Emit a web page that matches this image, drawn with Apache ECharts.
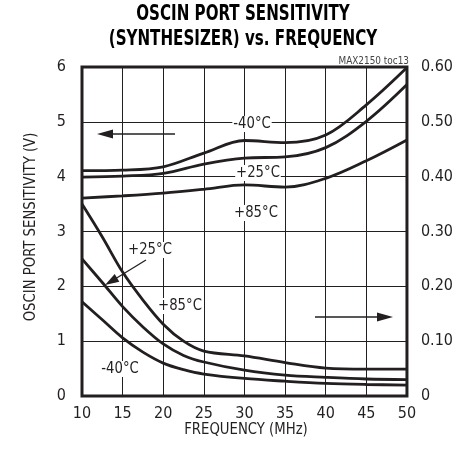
<!DOCTYPE html>
<html><head><meta charset="utf-8">
<script src="https://cdn.jsdelivr.net/npm/echarts@6/dist/echarts.min.js"></script>
<style>html,body{margin:0;padding:0;background:#fff}#c{width:456px;height:458px}</style>
</head><body><div id="c"></div>
<script>
// Frequency (MHz) sample points
const freqUpper = [10, 15, 20, 25, 30, 35, 40, 45, 50];
// Left axis (V): upper curve family
const upperM40 = [4.11, 4.12, 4.18, 4.43, 4.66, 4.62, 4.76, 5.31, 5.99];
const upperP25 = [3.99, 4.01, 4.06, 4.23, 4.34, 4.36, 4.53, 5.01, 5.68];
const upperP85 = [3.61, 3.65, 3.70, 3.77, 3.85, 3.81, 3.97, 4.29, 4.67];
// Right axis: lower curve family
const freqLower = [10, 12.5, 15, 17.5, 20, 22.5, 25, 30, 35, 40, 45, 50];
const lowerP85 = [0.350, 0.290, 0.226, 0.175, 0.131, 0.100, 0.082, 0.073, 0.061, 0.051, 0.049, 0.049];
const lowerP25 = [0.250, 0.207, 0.163, 0.126, 0.095, 0.074, 0.062, 0.047, 0.038, 0.034, 0.031, 0.030];
const lowerM40 = [0.172, 0.139, 0.106, 0.080, 0.060, 0.048, 0.040, 0.032, 0.027, 0.023, 0.021, 0.020];
const xTicks = [10, 15, 20, 25, 30, 35, 40, 45, 50];
const leftTicks = [0, 1, 2, 3, 4, 5, 6];
const rightTicks = ['0', '0.10', '0.20', '0.30', '0.40', '0.50', '0.60'];

const FONT = '"DejaVu Sans Condensed","Liberation Sans",sans-serif';
const INK = '#231f20';
const pairs = (xs, ys) => xs.map((x, i) => [x, ys[i]]);
const mk = (name, xs, ys, axis) => ({
  type: 'line', name, yAxisIndex: axis, data: pairs(xs, ys), smooth: 0.35,
  showSymbol: false, symbol: 'none', lineStyle: { color: INK, width: 2.8 }, silent: true
});
const lbl = (text, x, y) => ({
  type: 'text', x, y, silent: true, z: 100, scaleX: 0.92,
  style: { text, font: '16px ' + FONT, fill: INK, align: 'center', verticalAlign: 'middle',
           backgroundColor: '#fff', padding: [0, 1] }
});

const chart = echarts.init(document.getElementById('c'), null, { renderer: 'canvas' });
chart.setOption({
  animation: false,
  backgroundColor: '#fff',
  grid: { left: 82, right: 46, top: 67, bottom: 62, show: true, borderColor: INK, borderWidth: 3, backgroundColor: 'transparent' },
  xAxis: {
    type: 'value', min: 10, max: 50, interval: 5,
    axisLine: { show: false }, axisTick: { show: false },
    splitLine: { show: true, lineStyle: { color: INK, width: 1 } },
    axisLabel: { fontFamily: FONT, fontSize: 16, color: INK, margin: 10,
      formatter: v => xTicks.includes(v) ? String(v) : '' }
  },
  yAxis: [
    { type: 'value', min: 0, max: 6, interval: 1,
      axisLine: { show: false }, axisTick: { show: false },
      splitLine: { show: true, lineStyle: { color: INK, width: 1 } },
      axisLabel: { fontFamily: FONT, fontSize: 16, color: INK, margin: 16,
        formatter: v => String(leftTicks[Math.round(v)]) } },
    { type: 'value', min: 0, max: 0.6, interval: 0.1, position: 'right',
      axisLine: { show: false }, axisTick: { show: false }, splitLine: { show: false },
      axisLabel: { fontFamily: FONT, fontSize: 16, color: INK, margin: 14,
        formatter: v => rightTicks[Math.round(v * 10)] } }
  ],
  series: [
    mk('-40 upper', freqUpper, upperM40, 0),
    mk('+25 upper', freqUpper, upperP25, 0),
    mk('+85 upper', freqUpper, upperP85, 0),
    mk('+85 lower', freqLower, lowerP85, 1),
    mk('+25 lower', freqLower, lowerP25, 1),
    mk('-40 lower', freqLower, lowerM40, 1)
  ],
  graphic: [
    { type: 'text', x: 243, y: 15, scaleX: 0.8, style: { text: 'OSCIN PORT SENSITIVITY', font: 'bold 21px ' + FONT, fill: '#000', align: 'center', verticalAlign: 'middle' } },
    { type: 'text', x: 243, y: 40, scaleX: 0.8, style: { text: '(SYNTHESIZER) vs. FREQUENCY', font: 'bold 21px ' + FONT, fill: '#000', align: 'center', verticalAlign: 'middle' } },
    { type: 'text', x: 409, y: 61, scaleX: 0.9, style: { text: 'MAX2150 toc13', font: '11px ' + FONT, fill: '#444', align: 'right', verticalAlign: 'middle' } },
    { type: 'text', x: 246, y: 430, scaleX: 0.92, style: { text: 'FREQUENCY (MHz)', font: '16px ' + FONT, fill: INK, align: 'center', verticalAlign: 'middle' } },
    { type: 'text', x: 31, y: 227, rotation: Math.PI / 2, scaleX: 0.92, style: { text: 'OSCIN PORT SENSITIVITY (V)', font: '16px ' + FONT, fill: INK, align: 'center', verticalAlign: 'middle' } },
    lbl('-40°C', 252, 124),
    lbl('+25°C', 258, 173),
    lbl('+85°C', 256, 213),
    lbl('+25°C', 150, 250),
    lbl('+85°C', 180, 306),
    lbl('-40°C', 120, 369),
    // left-pointing arrow
    { type: 'line', shape: { x1: 175, y1: 134, x2: 108, y2: 134 }, style: { stroke: INK, lineWidth: 1.3 } },
    { type: 'polygon', shape: { points: [[97, 134], [113, 129.5], [113, 138.5]] }, style: { fill: INK } },
    // right-pointing arrow
    { type: 'line', shape: { x1: 315, y1: 317, x2: 382, y2: 317 }, style: { stroke: INK, lineWidth: 1.3 } },
    { type: 'polygon', shape: { points: [[393, 317], [377, 312.5], [377, 321.5]] }, style: { fill: INK } },
    // diagonal arrow to +25 lower
    { type: 'line', shape: { x1: 146, y1: 260, x2: 115, y2: 279 }, style: { stroke: INK, lineWidth: 1.3 } },
    { type: 'polygon', shape: { points: [[105, 285], [119.3, 281.7], [114.7, 273.9]] }, style: { fill: INK } }
  ]
});
</script></body></html>
